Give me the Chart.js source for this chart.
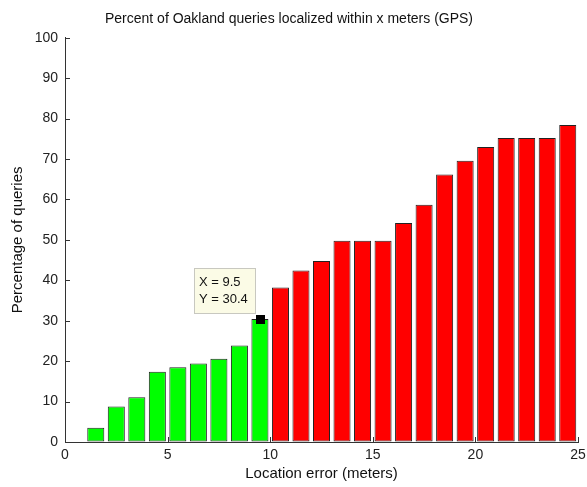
<!DOCTYPE html>
<html>
<head>
<meta charset="utf-8">
<script src="https://cdn.jsdelivr.net/npm/chart.js@4/dist/chart.umd.min.js"></script>
<style>
  html, body { margin: 0; padding: 0; background: #fff; }
  #wrap { width: 587px; height: 487px; }
</style>
</head>
<body>
<div id="wrap"><canvas id="chBars"></canvas></div>
<script>
// location error bins (meters) and percentage of queries
var meters = [1.5, 2.5, 3.5, 4.5, 5.5, 6.5, 7.5, 8.5, 9.5, 10.5, 11.5, 12.5,
              13.5, 14.5, 15.5, 16.5, 17.5, 18.5, 19.5, 20.5, 21.5, 22.5, 23.5, 24.5];
var percent = [3.5, 8.8, 11.1, 17.4, 18.5, 19.4, 20.6, 23.9, 30.4, 38.2, 42.4, 44.8,
               49.8, 49.8, 49.8, 54.2, 58.7, 66.2, 69.6, 73.0, 75.2, 75.2, 75.2, 78.4];
var xTicks = [0, 5, 10, 15, 20, 25];
var yTicks = [0, 10, 20, 30, 40, 50, 60, 70, 80, 90, 100];
var cutoff = 10;   // bars below this are green
var tipIndex = 8;  // data tip shown on this bar

var colors = ['#00ff00', '#ff0000'];
var fontFamily = '"Liberation Sans", Arial, sans-serif';

var barData = meters.map(function (m, i) { return {x: m, y: percent[i]}; });
var barColors = meters.map(function (m) { return m < cutoff ? colors[0] : colors[1]; });

// matlab style ticks pointing into the axes
var inwardTicks = {
  id: 'inwardTicks',
  afterDatasetsDraw: function (chart) {
    var ctx = chart.ctx, xs = chart.scales.x, ys = chart.scales.y;
    var a = chart.chartArea;
    ctx.save();
    ctx.strokeStyle = '#333';
    ctx.lineWidth = 1;
    ctx.beginPath();
    yTicks.forEach(function (v) {
      var y = Math.round(ys.getPixelForValue(v)) + 0.5;
      ctx.moveTo(a.left, y); ctx.lineTo(a.left + 5, y);
    });
    xTicks.forEach(function (v) {
      var x = Math.round(xs.getPixelForValue(v)) + 0.5;
      ctx.moveTo(x, a.bottom); ctx.lineTo(x, a.bottom - 5);
    });
    ctx.stroke();
    ctx.restore();
  }
};

// data cursor box
var dataTip = {
  id: 'dataTip',
  afterDraw: function (chart) {
    var ctx = chart.ctx, xs = chart.scales.x, ys = chart.scales.y;
    var px = xs.getPixelForValue(meters[tipIndex]);
    var py = ys.getPixelForValue(percent[tipIndex]);
    ctx.save();
    ctx.fillStyle = '#000';
    ctx.fillRect(Math.round(px) - 4, Math.round(py) - 4, 9, 9);
    var bx = Math.round(px) - 66, by = Math.round(py) - 51, bw = 61, bh = 45;
    ctx.fillStyle = '#fbfbe6';
    ctx.fillRect(bx, by, bw, bh);
    ctx.strokeStyle = '#c8c8c0';
    ctx.strokeRect(bx + 0.5, by + 0.5, bw, bh);
    ctx.fillStyle = '#111';
    ctx.font = '13px ' + fontFamily;
    ctx.textBaseline = 'middle';
    ctx.fillText('X = ' + meters[tipIndex], bx + 5, by + 14);
    ctx.fillText('Y = ' + percent[tipIndex], bx + 5, by + 31);
    ctx.restore();
  }
};

var chBars = document.getElementById('chBars');
if (chBars) {
  new Chart(chBars, {
    type: 'bar',
    data: {
      datasets: [{
        data: barData,
        backgroundColor: barColors,
        borderColor: '#222',
        borderWidth: 1,
        borderSkipped: false,
        categoryPercentage: 1,
        barPercentage: 0.83
      }]
    },
    options: {
      responsive: true,
      maintainAspectRatio: false,
      animation: false,
      layout: {padding: {left: 0, right: 9, top: 0, bottom: 0}},
      plugins: {
        legend: {display: false},
        tooltip: {enabled: false},
        title: {
          display: true,
          text: 'Percent of Oakland queries localized within x meters (GPS)',
          color: '#111',
          font: {family: fontFamily, size: 14, weight: 'normal'},
          padding: {top: 11, bottom: 10}
        }
      },
      scales: {
        x: {
          type: 'linear',
          min: 0, max: 25,
          offset: false,
          afterFit: function (s) { s.height = 45; s.paddingRight = 0; s.paddingLeft = 0; },
          afterBuildTicks: function (s) { s.ticks = xTicks.map(function (v) { return {value: v}; }); },
          grid: {drawOnChartArea: false, drawTicks: false, offset: false},
          border: {color: '#333', width: 1},
          ticks: {color: '#222', padding: 5, font: {family: fontFamily, size: 14}, maxRotation: 0},
          title: {display: true, text: 'Location error (meters)', color: '#111',
                  font: {family: fontFamily, size: 15}, padding: {top: 0, bottom: 4}}
        },
        y: {
          min: 0, max: 100,
          afterFit: function (s) { s.width = 65; s.paddingTop = 0; s.paddingBottom = 0; },
          afterBuildTicks: function (s) { s.ticks = yTicks.map(function (v) { return {value: v}; }); },
          grid: {drawOnChartArea: false, drawTicks: false},
          border: {color: '#333', width: 1},
          ticks: {color: '#222', padding: 7, font: {family: fontFamily, size: 14}},
          title: {display: true, text: 'Percentage of queries', color: '#111',
                  font: {family: fontFamily, size: 15}, padding: {top: 9, bottom: 0}}
        }
      }
    },
    plugins: [inwardTicks, dataTip]
  });
}
</script>
</body>
</html>
